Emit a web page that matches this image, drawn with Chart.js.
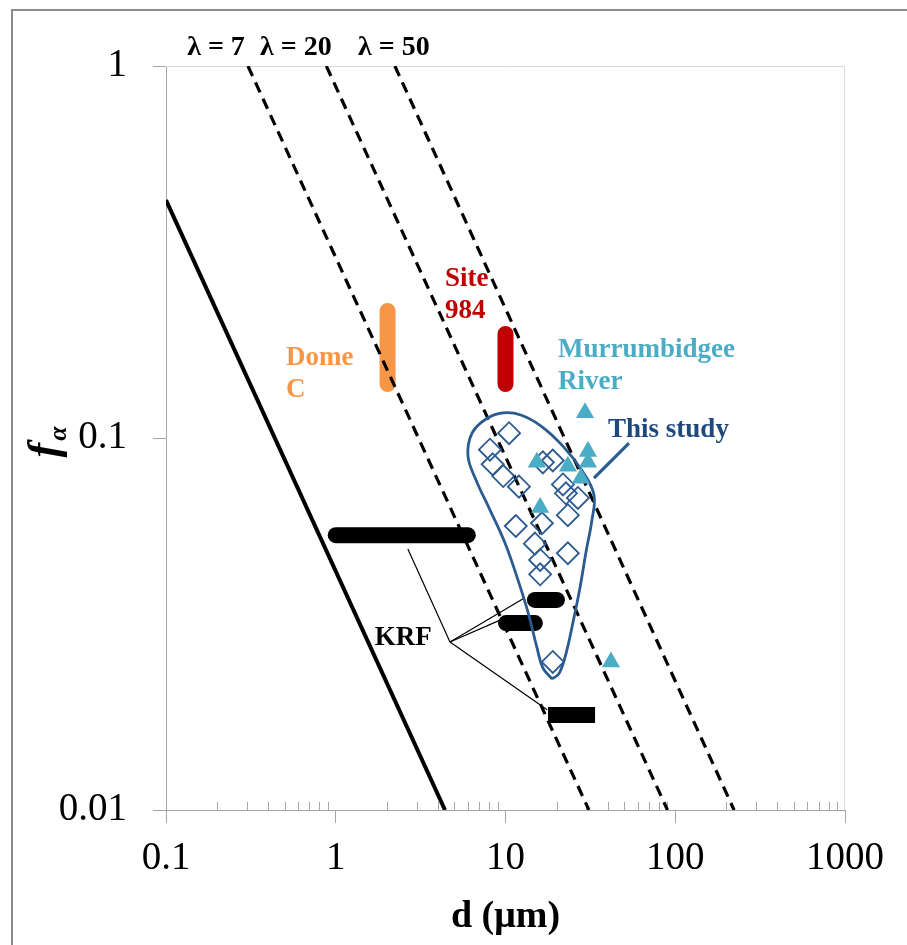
<!DOCTYPE html>
<html><head><meta charset="utf-8">
<script src="https://cdn.jsdelivr.net/npm/chart.js@4/dist/chart.umd.min.js"></script>
<style>
html,body{margin:0;padding:0;background:#fff;}
#wrap{position:relative;width:907px;height:945px;overflow:hidden;background:#fff;}
#frame{position:absolute;left:11px;top:9px;width:930px;height:970px;border:2px solid #8c8c8c;box-sizing:border-box;}
canvas{position:absolute;left:0;top:0;}
</style></head><body>
<div id="wrap"><div id="frame"></div><canvas id="c" width="907" height="945"></canvas></div>
<script>
// ---------- data ----------
const xTickValues = [0.1, 1, 10, 100, 1000];
const xTickLabels = ['0.1', '1', '10', '100', '1000'];
const yTickValues = [0.01, 0.1, 1];
const yTickLabels = ['0.01', '0.1', '1'];
const xMinorMultipliers = [2, 3, 4, 5, 6, 7, 8, 9];

// reference lines f = k*lambda/d, endpoints [d, f]
const lambda1Line  = [[0.1, 0.436], [4.4, 0.01]];
const lambda7Line  = [[0.304, 1], [31, 0.01]];
const lambda20Line = [[0.88, 1], [90, 0.01]];
const lambda50Line = [[2.23, 1], [222, 0.01]];
const lambdaLabels = ['λ = 7', 'λ = 20', 'λ = 50'];

// This study (open diamonds) [d (µm), f_alpha]
const thisStudy = [
  [10.5, 0.103], [8.1, 0.093], [8.4, 0.085], [9.7, 0.079], [12.0, 0.074],
  [16.6, 0.086], [19.0, 0.087], [21.8, 0.075], [22.7, 0.071], [26.7, 0.069],
  [23.3, 0.062], [11.5, 0.058], [16.4, 0.059], [14.9, 0.052], [23.3, 0.049],
  [16.0, 0.047], [16.0, 0.043], [19.0, 0.025]
];
// Murrumbidgee River (filled triangles)
const murrumbidgee = [
  [29.4, 0.117], [30.6, 0.092], [30.6, 0.086], [23.3, 0.084],
  [15.3, 0.086], [27.8, 0.078], [16.0, 0.065], [41.8, 0.025]
];
// envelope around This study
const thisStudyEnvelope = [
  [18.8, 0.0225], [16.6, 0.0241], [15.3, 0.0274], [13.6, 0.0339], [11.85, 0.0415],
  [9.93, 0.0522], [8.11, 0.064], [6.70, 0.0771], [6.01, 0.0895], [6.35, 0.103],
  [7.68, 0.1125], [9.67, 0.1168], [12.3, 0.1153], [16.2, 0.1077], [21.8, 0.0951],
  [28.6, 0.081], [33.2, 0.0703], [32.3, 0.0602], [29.8, 0.0494], [27.5, 0.0397],
  [25.0, 0.032], [22.7, 0.0263], [20.7, 0.0233], [18.8, 0.0225]
];
const thisStudyLeader = [[53.4, 0.0969], [33.2, 0.078]];

// ranges
const domeC   = [[2.02, 0.2196], [2.02, 0.1397]];
const site984 = [[10.0, 0.1905], [10.0, 0.1397]];
const krfRounded = [
  [[1.0, 0.0548], [6.0, 0.0548]],
  [[14.9, 0.0367], [20.1, 0.0367]],
  [[10.07, 0.0318], [14.9, 0.0318]]
];
const krfRect = [[17.8, 0.018], [33.7, 0.018]];
const krfLeaderOrigin = [4.71, 0.0283];
const krfLeaderTargets = [[2.66, 0.0503], [13.0, 0.0372], [9.29, 0.0324], [17.6, 0.0186]];

// ---------- styling ----------
const FONT = "'Liberation Serif','Times New Roman',serif";
const AXIS = '#a6a6a6';
const BLUE = '#2c5b91';
const TEAL = '#4bacc6';
const pts = a => a.map(([x, y]) => ({x, y}));

function lineDs(points, o) {
  return Object.assign({data: pts(points), showLine: true, pointRadius: 0, pointHoverRadius: 0,
    fill: false, tension: 0, borderColor: '#000', backgroundColor: '#000'}, o);
}

const datasets = [
  {label: 'Murrumbidgee River', data: pts(murrumbidgee), pointStyle: 'triangle', pointRadius: 10.5,
   backgroundColor: TEAL, borderColor: TEAL, borderWidth: 0, showLine: false, order: 0},
  {label: 'This study', data: pts(thisStudy), pointStyle: 'rectRot', pointRadius: 11,
   backgroundColor: 'rgba(0,0,0,0)', borderColor: BLUE, borderWidth: 1.8, showLine: false, order: 1},
  lineDs(thisStudyEnvelope, {label: 'envelope', borderColor: BLUE, borderWidth: 2.8, tension: 0.4, order: 2}),
  lineDs(thisStudyLeader, {label: 'leader', borderColor: BLUE, borderWidth: 3.2, order: 2}),
  lineDs(lambda7Line,  {label: 'λ7',  borderWidth: 3.2, borderDash: [11, 7], order: 3}),
  lineDs(lambda20Line, {label: 'λ20', borderWidth: 3.2, borderDash: [11, 7], order: 3}),
  lineDs(lambda50Line, {label: 'λ50', borderWidth: 3.2, borderDash: [11, 7], order: 3}),
  lineDs(lambda1Line,  {label: 'λ1',  borderWidth: 4, order: 3}),
  ...krfRounded.map((b, i) => lineDs(b, {label: 'KRF' + i, borderWidth: 16, borderCapStyle: 'round', order: 4})),
  lineDs(krfRect, {label: 'KRFrect', borderWidth: 16, borderCapStyle: 'butt', order: 4}),
  lineDs(domeC, {label: 'Dome C', borderColor: '#f79646', borderWidth: 16, borderCapStyle: 'round', order: 5}),
  lineDs(site984, {label: 'Site 984', borderColor: '#c00000', borderWidth: 16, borderCapStyle: 'round', order: 5}),
  ...krfLeaderTargets.map((t, i) => lineDs([krfLeaderOrigin, t], {label: 'KRFlead' + i, borderWidth: 1.2, order: 6}))
];

const textNotes = [
  {lines: ['Dome', 'C'], color: '#f79646', at: [0.509, 0.157]},
  {lines: ['Site', '984'], color: '#c00000', at: [4.40, 0.256]},
  {lines: ['Murrumbidgee', 'River'], color: TEAL, at: [20.4, 0.165]},
  {lines: ['This study'], color: '#1f497d', at: [40.2, 0.1006]},
  {lines: ['KRF'], color: '#000', at: [1.70, 0.0278]}
];
const lambdaLabelX = [0.197, 0.583, 2.2];

const decor = {
  id: 'decor',
  beforeDatasetsDraw(chart) {
    const {ctx, chartArea: a, scales: {x}} = chart;
    ctx.save();
    ctx.strokeStyle = '#d9d9d9'; ctx.lineWidth = 1;
    ctx.beginPath();
    ctx.moveTo(a.left, a.top + 0.5); ctx.lineTo(a.right - 0.5, a.top + 0.5); ctx.lineTo(a.right - 0.5, a.bottom);
    ctx.stroke();
    // inward minor ticks on x axis
    ctx.strokeStyle = AXIS;
    ctx.beginPath();
    for (let dec = 0; dec < xTickValues.length - 1; dec++) {
      for (const m of xMinorMultipliers) {
        const px = Math.round(x.getPixelForValue(xTickValues[dec] * m)) + 0.5;
        ctx.moveTo(px, a.bottom); ctx.lineTo(px, a.bottom - 8);
      }
    }
    ctx.stroke();
    ctx.restore();
  },
  afterDraw(chart) {
    const {ctx, chartArea: a, scales: {x, y}} = chart;
    ctx.save();
    ctx.textBaseline = 'alphabetic';
    ctx.font = `bold 27px ${FONT}`;
    ctx.textAlign = 'left';
    for (const n of textNotes) {
      const px = x.getPixelForValue(n.at[0]);
      const py = y.getPixelForValue(n.at[1]);
      ctx.fillStyle = n.color;
      n.lines.forEach((t, i) => ctx.fillText(t, px, py + i * 32));
    }
    ctx.fillStyle = '#000';
    ctx.textAlign = 'center';
    ctx.font = `bold 28px ${FONT}`;
    lambdaLabels.forEach((t, i) => ctx.fillText(t, x.getPixelForValue(lambdaLabelX[i]), a.top - 11));
    // y axis title f_alpha
    ctx.translate(58, (a.top + a.bottom) / 2 + 4);
    ctx.rotate(-Math.PI / 2);
    ctx.textAlign = 'left';
    ctx.font = `italic bold 44px ${FONT}`;
    const wf = ctx.measureText('f').width;
    ctx.font = `italic bold 26px ${FONT}`;
    const wa = ctx.measureText('α').width;
    const start = -(wf + wa + 2) / 2;
    ctx.font = `italic bold 44px ${FONT}`;
    ctx.fillText('f', start, 0);
    ctx.font = `italic bold 26px ${FONT}`;
    ctx.fillText('α', start + wf + 2, 8);
    ctx.restore();
  }
};

new Chart(document.getElementById('c'), {
  type: 'scatter',
  data: {datasets},
  options: {
    responsive: false, animation: false, devicePixelRatio: 1, events: [],
    layout: {padding: {left: 0, right: 62, top: 66, bottom: 0}},
    plugins: {legend: {display: false}, tooltip: {enabled: false}, title: {display: false}},
    scales: {
      x: {
        type: 'logarithmic', position: 'bottom', min: 0.1, max: 1000,
        afterBuildTicks: s => { s.ticks = xTickValues.map(v => ({value: v})); },
        afterFit: s => { s.height = 135; },
        ticks: {callback: (v, i) => xTickLabels[i], font: {family: FONT, size: 39}, color: '#000',
                padding: 12, maxRotation: 0, autoSkip: false},
        grid: {drawOnChartArea: false, drawTicks: true, tickLength: 13, color: AXIS, tickColor: AXIS},
        border: {display: true, color: AXIS, width: 1},
        title: {display: true, text: 'd (μm)', color: '#000', font: {family: FONT, size: 38, weight: 'bold'},
                padding: {top: 0, bottom: 5}}
      },
      y: {
        type: 'logarithmic', position: 'left', min: 0.01, max: 1,
        afterBuildTicks: s => { s.ticks = yTickValues.map(v => ({value: v})); },
        afterFit: s => { s.width = 166; },
        ticks: {callback: (v, i) => yTickLabels[i], font: {family: FONT, size: 39}, color: '#000',
                padding: 26, autoSkip: false},
        grid: {drawOnChartArea: false, drawTicks: true, tickLength: 13, color: AXIS, tickColor: AXIS},
        border: {display: true, color: AXIS, width: 1},
        title: {display: false}
      }
    }
  },
  plugins: [decor]
});
</script>
</body></html>
